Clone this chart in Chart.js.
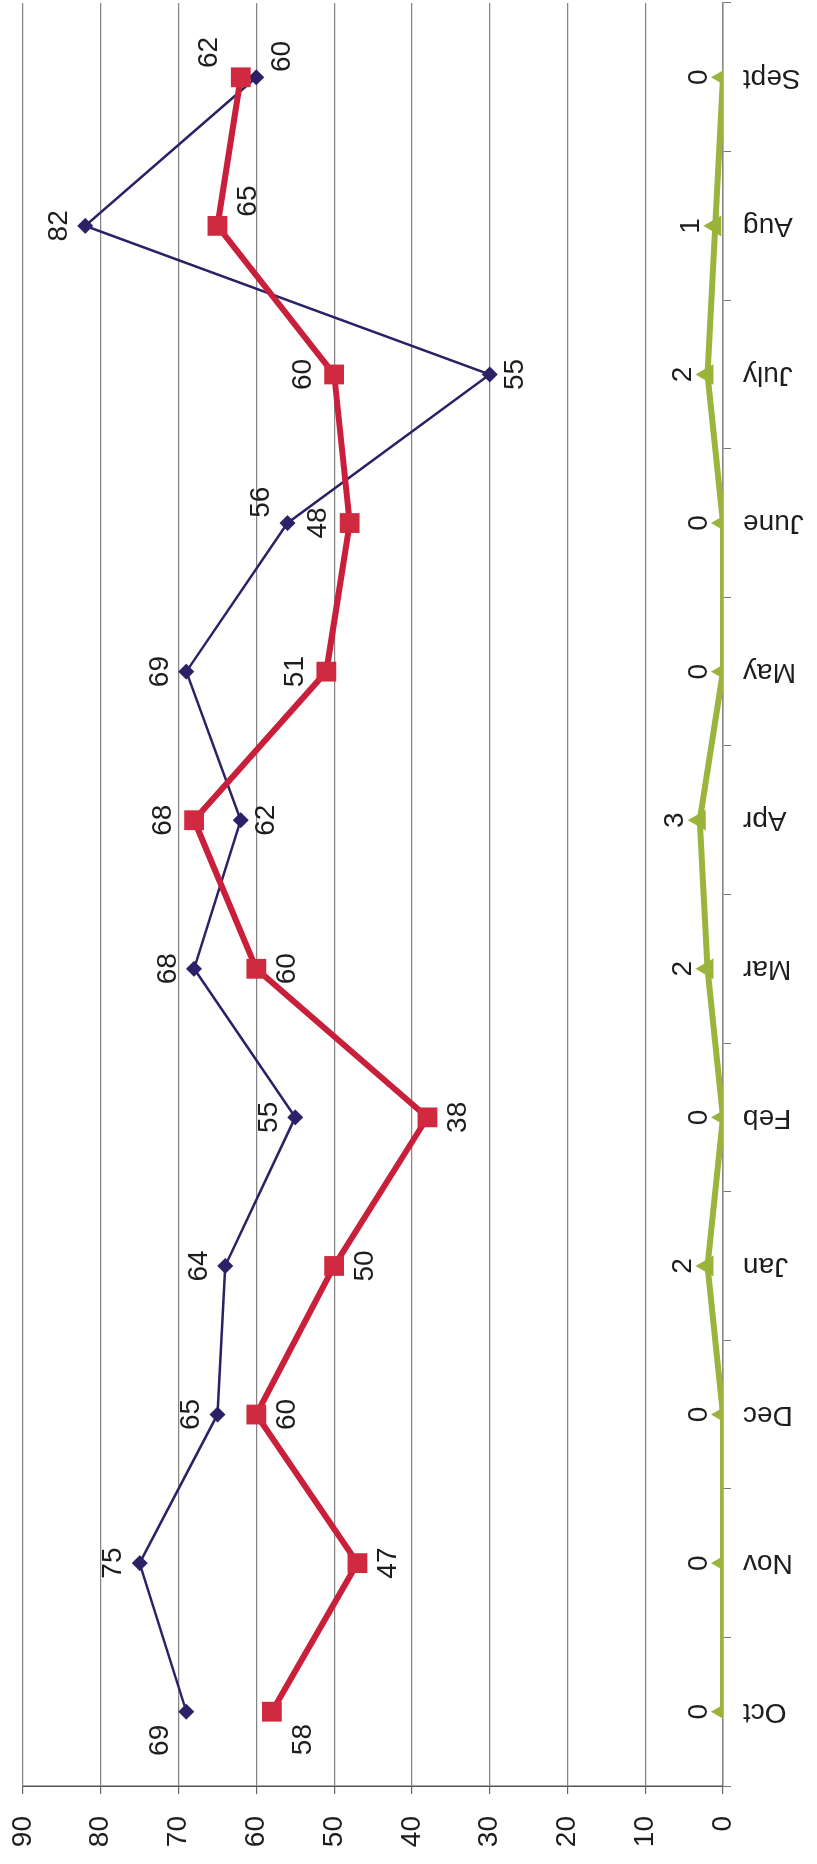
<!DOCTYPE html>
<html>
<head>
<meta charset="utf-8">
<script src="https://cdn.jsdelivr.net/npm/chart.js@4"></script>
<style>
    html, body { margin: 0; padding: 0; width: 817px; height: 1864px; overflow: hidden; background: #fff; }
    /* the chart is drawn landscape and turned a quarter turn counter-clockwise */
    #wrap {
        position: absolute; left: 0; top: 0;
        width: 1864px; height: 817px;
        transform-origin: 0 0;
        transform: translateY(1864px) rotate(-90deg);
    }
</style>
</head>
<body>
<div id="wrap"><canvas id="chart" width="1864" height="817"></canvas></div>
<script>
// Chart data
const months = ['Oct', 'Nov', 'Dec', 'Jan', 'Feb', 'Mar', 'Apr', 'May', 'June', 'July', 'Aug', 'Sept'];

const navyValues = [69, 75, 65, 64, 55, 68, 62, 69, 56, 30, 82, 60];
const navyLabels = ['69', '75', '65', '64', '55', '68', '62', '69', '56', '55', '82', '60'];

const redValues = [58, 47, 60, 50, 38, 60, 68, 51, 48, 50, 65, 62];
const redLabels = ['58', '47', '60', '50', '38', '60', '68', '51', '48', '60', '65', '62'];

const greenValues = [0, 0, 0, 2, 0, 2, 3, 0, 0, 2, 1, 0];
const greenLabels = ['0', '0', '0', '2', '0', '2', '3', '0', '0', '2', '1', '0'];

const axisMin = 0;
const axisMax = 90;
const axisStep = 10;

// where each value label sits around its point (landscape frame)
const navyLabelPos = ['nw', 'n', 'n', 'n', 'n', 'n', 's', 'n', 'ne', 's', 'n', 'se'];
const redLabelPos = ['sw', 's', 's', 's', 's', 's', 'n', 'n', 'n', 'n', 'se', 'ne'];
const greenLabelPos = months.map(() => 'n');

const FONT = '"Liberation Sans", Arial, sans-serif';

function labelOffset(pos, d) {
    switch (pos) {
        case 'n': return [0, -d];
        case 's': return [0, d];
        case 'ne': return [0.8 * d, -d];
        case 'se': return [0.8 * d, d];
        case 'nw': return [-1.1 * d, -d];
        case 'sw': return [-0.9 * d, d];
        default: return [0, -d];
    }
}

const valueLabels = {
    id: 'valueLabels',
    afterDatasetsDraw(chart) {
        const ctx = chart.ctx;
        ctx.save();
        ctx.font = '28px ' + FONT;
        ctx.fillStyle = '#1d1d1d';
        ctx.textAlign = 'center';
        ctx.textBaseline = 'middle';
        chart.data.datasets.forEach((ds, i) => {
            const meta = chart.getDatasetMeta(i);
            meta.data.forEach((pt, j) => {
                const [dx, dy] = labelOffset(ds.labelPos[j], ds.labelDist);
                ctx.fillText(ds.valueText[j], pt.x + dx, pt.y + dy);
            });
        });
        ctx.restore();
    }
};

function createChart() {
    const ctx = document.getElementById('chart');
    new Chart(ctx, {
        type: 'line',
        data: {
            labels: months,
            datasets: [
                {
                    data: redValues,
                    valueText: redLabels,
                    labelPos: redLabelPos,
                    labelDist: 31,
                    borderColor: '#c91f3a',
                    borderWidth: 6,
                    pointStyle: 'rect',
                    pointRadius: 14,
                    pointBackgroundColor: '#cf2a40',
                    pointBorderWidth: 0,
                    tension: 0
                },
                {
                    data: navyValues,
                    valueText: navyLabels,
                    labelPos: navyLabelPos,
                    labelDist: 26,
                    borderColor: '#2b2166',
                    borderWidth: 2.5,
                    pointStyle: 'rectRot',
                    pointRadius: 8,
                    pointBackgroundColor: '#2b2166',
                    pointBorderWidth: 0,
                    tension: 0
                },
                {
                    data: greenValues,
                    valueText: greenLabels,
                    labelPos: greenLabelPos,
                    labelDist: 24,
                    borderColor: '#9bb53c',
                    borderWidth: 6,
                    pointStyle: 'triangle',
                    pointRadius: 12,
                    pointBackgroundColor: '#9ab43a',
                    pointBorderWidth: 0,
                    tension: 0
                }
            ]
        },
        options: {
            responsive: false,
            animation: false,
            layout: {
                autoPadding: false,
                padding: { top: 23, right: 3, left: 0, bottom: 0 }
            },
            plugins: {
                legend: { display: false },
                tooltip: { enabled: false }
            },
            scales: {
                x: {
                    type: 'category',
                    offset: true,
                    grid: {
                        drawOnChartArea: false,
                        offset: true,
                        tickLength: 8,
                        color: '#777'
                    },
                    border: { color: '#888', width: 1.5 },
                    ticks: {
                        autoSkip: false,
                        minRotation: 90,
                        maxRotation: 90,
                        padding: 12,
                        color: '#1d1d1d',
                        font: { family: FONT, size: 28 }
                    },
                    afterFit: scale => {
                        scale.height = 94;
                        scale.paddingLeft = 0;
                        scale.paddingRight = 0;
                    }
                },
                y: {
                    min: axisMin,
                    max: axisMax,
                    grid: {
                        color: '#858585',
                        lineWidth: 1.2,
                        tickLength: 8,
                        tickColor: '#666'
                    },
                    border: { color: '#555', width: 1.5 },
                    ticks: {
                        stepSize: axisStep,
                        padding: 22,
                        color: '#1d1d1d',
                        font: { family: FONT, size: 28 }
                    },
                    afterFit: scale => {
                        scale.width = 78;
                        scale.paddingTop = 0;
                        scale.paddingBottom = 0;
                    }
                }
            }
        },
        plugins: [valueLabels]
    });
}

createChart();
</script>
</body>
</html>
